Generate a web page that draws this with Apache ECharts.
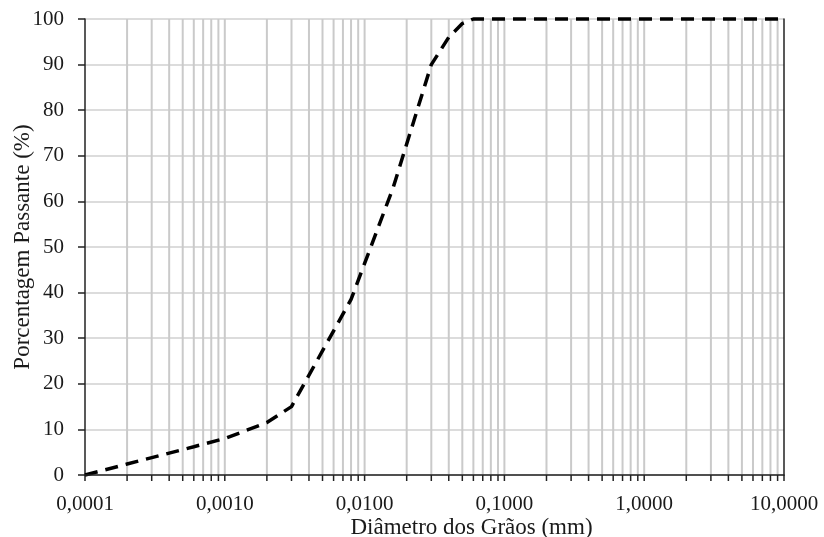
<!DOCTYPE html>
<html>
<head>
<meta charset="utf-8">
<script src="https://cdn.jsdelivr.net/npm/echarts@6/dist/echarts.min.js"></script>
<style>
  html, body { margin: 0; padding: 0; background: #fff; }
  #chart { width: 824px; height: 537px; }
</style>
</head>
<body>
<div id="chart"></div>
<script>
// curva granulometrica (diametro em mm, % passante)
const diameters = [0.0001, 0.0002, 0.0004, 0.0006, 0.001, 0.002, 0.003, 0.008, 0.016, 0.03, 0.04, 0.05, 0.06, 0.1, 1, 10];
const passing   = [0,      2.4,    4.8,    6.2,    8,     11.5,  15,    38.5,  63,    90,   96,   99,   100,  100, 100, 100];

const decades = [0.0001, 0.001, 0.01, 0.1, 1, 10];

// linhas verticais da grade (1..9 x cada decada)
const gridValues = [];
for (let d = 0; d < decades.length - 1; d++) {
    for (let k = 1; k <= 9; k++) {
        gridValues.push([decades[d] * k, 0]);
    }
}
gridValues.push([decades[decades.length - 1], 0]);

const curve = diameters.map(function (d, i) { return [d, passing[i]]; });

const font = 'Liberation Serif';
const textColor = '#1a1a1a';
const xMin = decades[0], xMax = decades[decades.length - 1];

const chart = echarts.init(document.getElementById('chart'), null, {renderer: 'canvas'});
const option = {
    animation: false,
    grid: {left: 85, right: 40, top: 19, bottom: 62, containLabel: false, outerBoundsMode: 'none'},
    xAxis: {
        type: 'log',
        logBase: 10,
        min: xMin,
        max: xMax,
        z: 5,
        name: 'Diâmetro dos Grãos (mm)',
        nameLocation: 'middle',
        nameGap: 41,
        nameMoveOverlap: false,
        nameTextStyle: {fontFamily: font, fontSize: 23, color: textColor, padding: [0, 0, 0, 74]},
        axisLine: {show: true, lineStyle: {color: '#222', width: 1.5}},
        axisTick: {show: false},
        splitLine: {show: false},
        axisLabel: {
            fontFamily: font, fontSize: 21, color: textColor, margin: 19,
            formatter: function (v) { return Number(v).toFixed(4).replace('.', ','); }
        }
    },
    yAxis: [{
        type: 'value',
        min: 0,
        max: 100,
        interval: 10,
        name: 'Porcentagem Passante (%)',
        nameLocation: 'middle',
        nameGap: 51,
        nameMoveOverlap: false,
        nameTextStyle: {fontFamily: font, fontSize: 23, color: textColor},
        axisLine: {show: true, lineStyle: {color: '#222', width: 1.5}},
        axisTick: {show: true, length: 7, lineStyle: {color: '#222', width: 1.5}},
        splitLine: {show: true, lineStyle: {color: '#dcdcdc', width: 2}},
        axisLabel: {fontFamily: font, fontSize: 21, color: textColor, margin: 21}
    }, {
        type: 'value',
        position: 'right',
        min: 0,
        max: 100,
        axisLine: {show: true, lineStyle: {color: '#222', width: 1.5}},
        axisTick: {show: false},
        axisLabel: {show: false},
        splitLine: {show: false}
    }],
    series: [{
        type: 'custom',
        silent: true,
        z: 1,
        data: gridValues,
        encode: {x: 0, y: 1},
        renderItem: function (params, api) {
            const x = api.value(0);
            const top = api.coord([x, 100]);
            const bot = api.coord([x, 0]);
            const children = [{
                type: 'line',
                shape: {x1: bot[0], y1: bot[1], x2: bot[0], y2: bot[1] + 6},
                style: {stroke: '#222', lineWidth: 1.5}
            }];
            // nas bordas fica so o eixo preto
            if (x > xMin * 1.01 && x < xMax * 0.99) {
                children.unshift({
                    type: 'line',
                    shape: {x1: top[0], y1: top[1], x2: bot[0], y2: bot[1]},
                    style: {stroke: '#cacaca', lineWidth: 2}
                });
            }
            return {type: 'group', children: children};
        }
    }, {
        type: 'line',
        z: 3,
        data: curve,
        showSymbol: false,
        smooth: false,
        clip: false,
        lineStyle: {color: '#000', width: 3.5, type: [13, 8]}
    }]
};
chart.setOption(option);
</script>
</body>
</html>
